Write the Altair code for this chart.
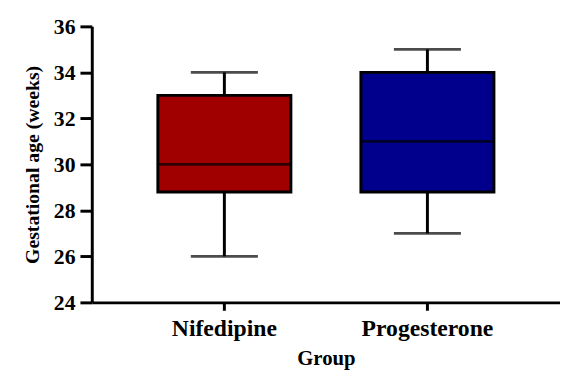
import altair as alt
import pandas as pd

groups = ["Nifedipine", "Progesterone"]
mins = [26, 27]
q1s = [28.8, 28.8]
medians = [30, 31]
q3s = [33, 34]
maxs = [34, 35]
colors = ["#A00000", "#00008C"]
y_ticks = [24, 26, 28, 30, 32, 34, 36]

df = pd.DataFrame({"group": groups, "lo": mins, "q1": q1s, "med": medians, "q3": q3s, "hi": maxs})

FONT = "Liberation Serif"

x_enc = alt.X(
    "group:N",
    scale=alt.Scale(type="band", domain=groups, paddingOuter=0.153, paddingInner=0),
    axis=alt.Axis(
        title="Group", labelAngle=0, labelFont=FONT, labelFontWeight="bold", labelFontSize=24,
        labelColor="black", titleFont=FONT, titleFontWeight="bold", titleFontSize=21,
        titleColor="black", titlePadding=7, domainColor="black", domainWidth=3,
        tickColor="black", tickWidth=3, tickSize=8, labelPadding=7, grid=False,
    ),
)
y_scale = alt.Scale(domain=[24, 36], nice=False, zero=False)
y_axis = alt.Axis(
    values=y_ticks, title="Gestational age (weeks)", labelFont=FONT, labelFontWeight="bold",
    labelFontSize=22, labelColor="black", titleFont=FONT, titleFontWeight="bold",
    titleFontSize=20, titleColor="black", titlePadding=11, domainColor="black",
    domainWidth=3, tickColor="black", tickWidth=3, tickSize=12, labelPadding=5, grid=False,
)

base = alt.Chart(df)

lower = base.mark_rule(color="black", strokeWidth=3).encode(
    x=x_enc, y=alt.Y("lo:Q", scale=y_scale, axis=y_axis), y2="q1:Q")
upper = base.mark_rule(color="black", strokeWidth=3).encode(
    x=x_enc, y=alt.Y("q3:Q", scale=y_scale, axis=y_axis), y2="hi:Q")
box = base.mark_bar(stroke="black", strokeWidth=3, width=alt.RelativeBandSize(0.655)).encode(
    x=x_enc, y=alt.Y("q1:Q", scale=y_scale, axis=y_axis), y2="q3:Q",
    color=alt.Color("group:N", scale=alt.Scale(domain=groups, range=colors), legend=None))
median = base.mark_tick(color="black", thickness=3, size=135).encode(
    x=x_enc, y=alt.Y("med:Q", scale=y_scale, axis=y_axis))
cap_lo = base.mark_tick(color="black", thickness=3, size=68).encode(
    x=x_enc, y=alt.Y("lo:Q", scale=y_scale, axis=y_axis))
cap_hi = base.mark_tick(color="black", thickness=3, size=68).encode(
    x=x_enc, y=alt.Y("hi:Q", scale=y_scale, axis=y_axis))

chart = alt.layer(lower, upper, box, median, cap_lo, cap_hi).properties(
    width=475, height=280,
    autosize=alt.AutoSizeParams(type="none"),
    padding={"left": 85, "top": 16, "right": 0, "bottom": 69},
    background="white",
).configure_view(stroke=None)

chart.save("out.html", embed_options={"renderer": "svg", "actions": False})
